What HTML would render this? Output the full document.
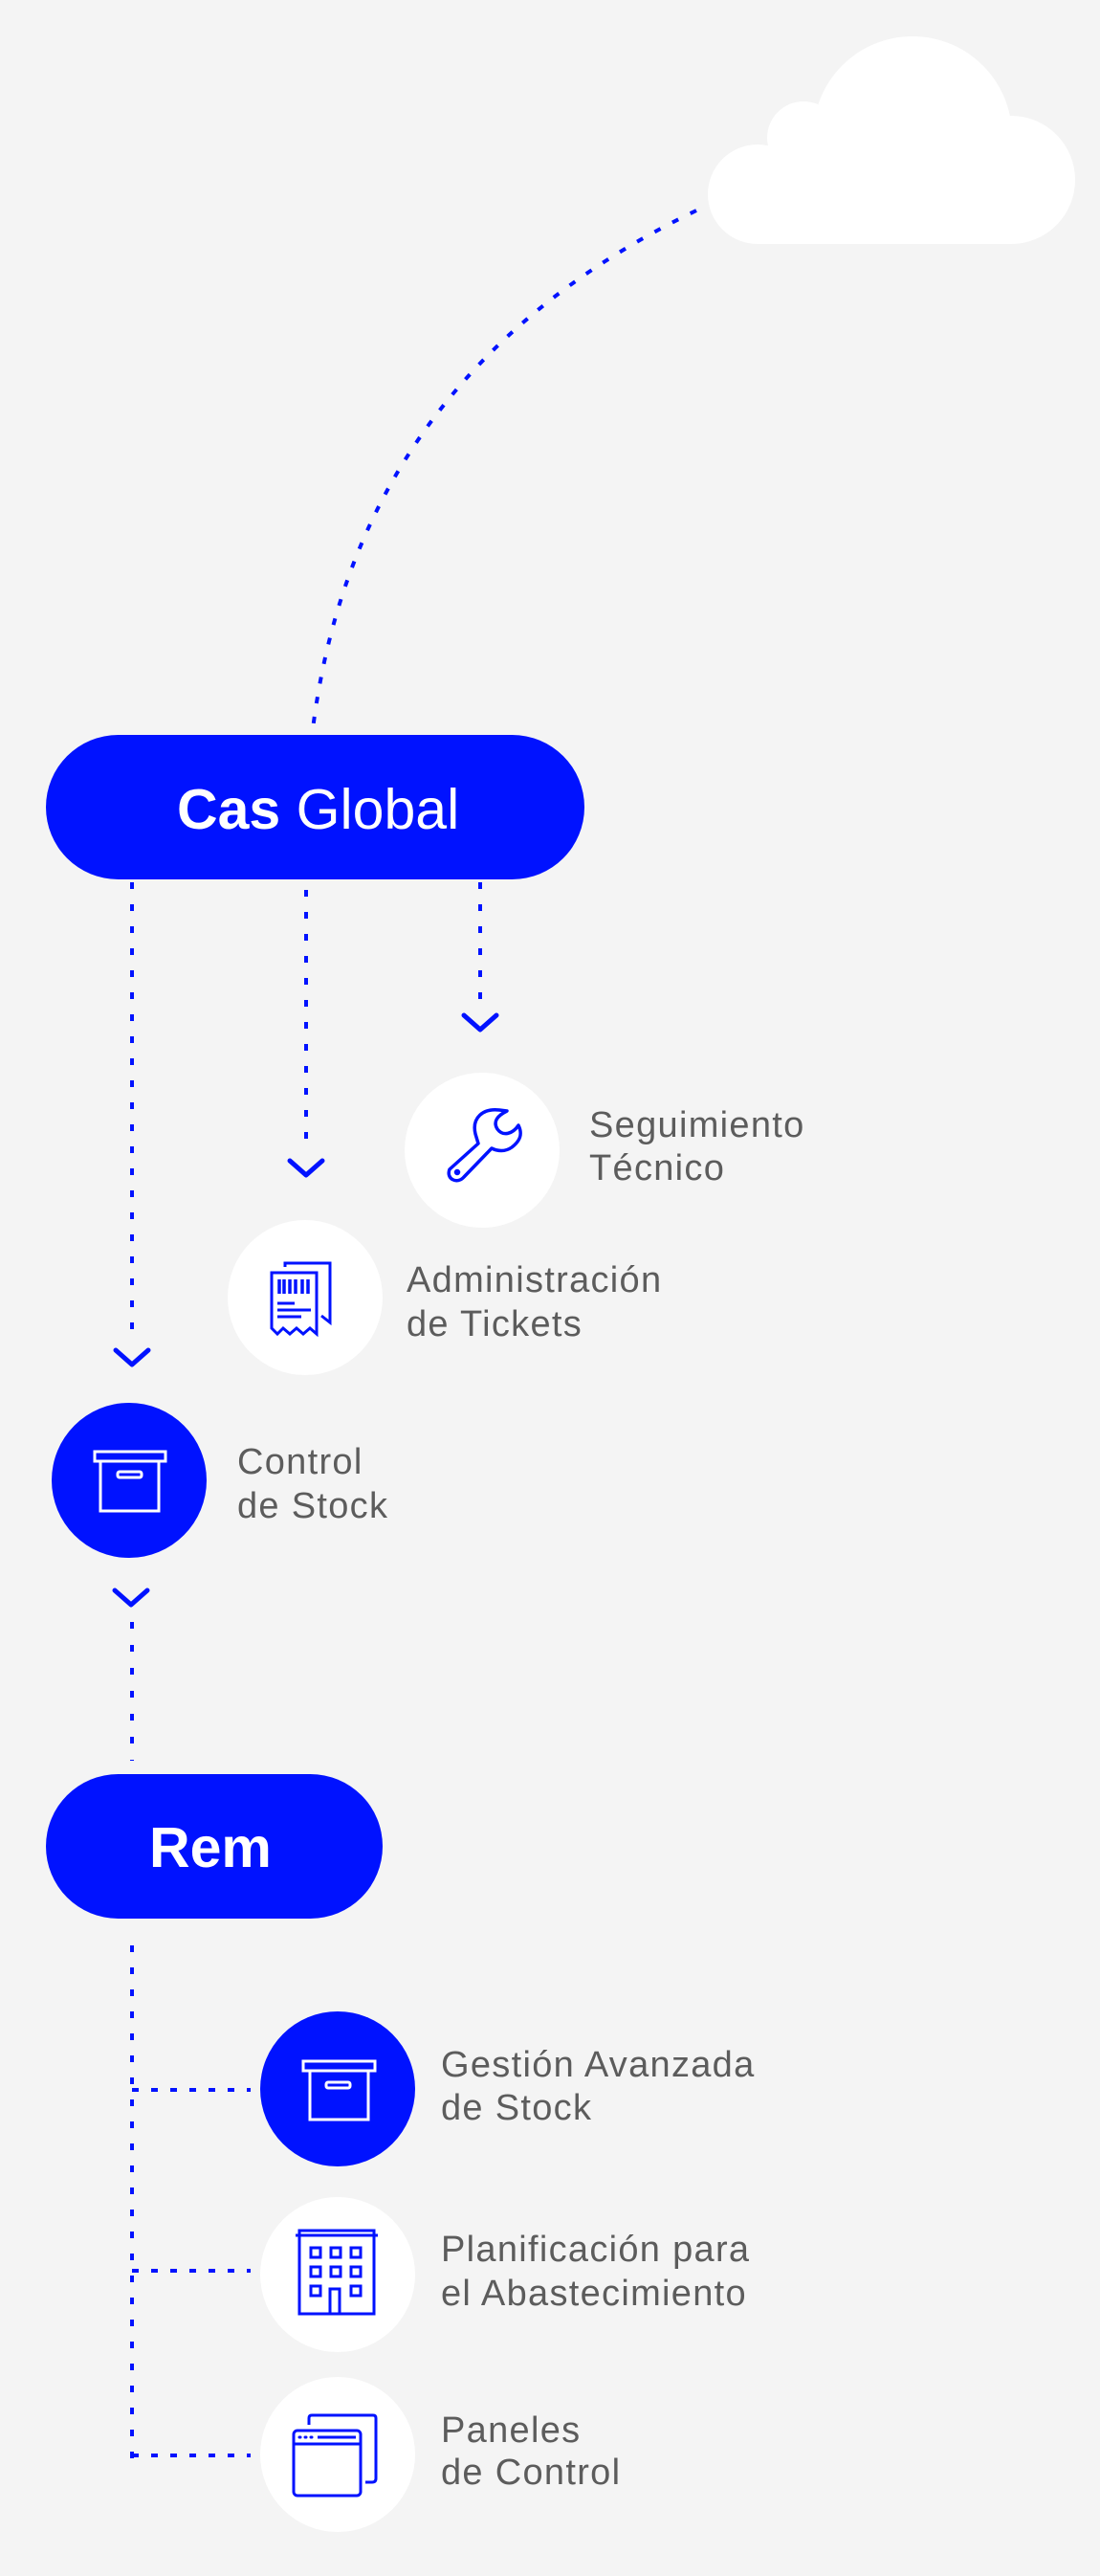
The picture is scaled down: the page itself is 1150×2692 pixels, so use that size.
<!DOCTYPE html>
<html><head><meta charset="utf-8"><style>
html,body{margin:0;padding:0;background:#f4f4f4;}
svg{display:block}
.t{font-family:"Liberation Sans",sans-serif;font-size:38px;letter-spacing:1.3px;fill:#5c5c5c;}
</style></head><body>
<svg width="1150" height="2692" viewBox="0 0 1150 2692" xmlns="http://www.w3.org/2000/svg">
<rect width="1150" height="2692" fill="#f4f4f4"/>
<!-- cloud -->
<g fill="#fff">
<circle cx="954" cy="142" r="104"/>
<circle cx="1057" cy="188" r="67"/>
<circle cx="792" cy="203" r="52"/>
<circle cx="840" cy="144" r="38"/>
<rect x="792" y="180" width="265" height="75"/>
<rect x="840" y="140" width="130" height="80"/>
</g>
<g fill="none" stroke="#0012ff" stroke-width="4">
<path d="M728 220 Q374 390 327 762" stroke-dasharray="7 14"/>
<path d="M138 922 V1398" stroke-dasharray="7 16"/>
<path d="M320 930 V1198" stroke-dasharray="7 16"/>
<path d="M502 922 V1048" stroke-dasharray="7 16"/>
<path d="M138 1695 V1840" stroke-dasharray="7 17"/>
<path d="M138 2033 V2570" stroke-dasharray="7 16"/>
<path d="M138 2184 H262 M138 2373 H262 M138 2566 H262" stroke-dasharray="7 13"/>
</g>
<g fill="none" stroke="#0012ff" stroke-width="5" stroke-linecap="round" stroke-linejoin="round">
<path d="M121 1411 L138 1426 L155 1411"/>
<path d="M303 1213 L320 1228 L337 1213"/>
<path d="M485 1061 L502 1076 L519 1061"/>
<path d="M120 1662 L137 1677 L154 1662"/>
</g>
<!-- pills -->
<rect x="48" y="768" width="563" height="151" rx="75.5" fill="#0012ff"/>
<text x="185" y="866" font-family="Liberation Sans, sans-serif" font-size="59" fill="#fff"><tspan font-weight="bold">Cas</tspan> Global</text>
<rect x="48" y="1854" width="352" height="151" rx="75.5" fill="#0012ff"/>
<text x="156" y="1951" font-family="Liberation Sans, sans-serif" font-size="59" font-weight="bold" fill="#fff">Rem</text>
<!-- circles -->
<circle cx="504" cy="1202" r="81" fill="#fff"/>
<circle cx="319" cy="1356" r="81" fill="#fff"/>
<circle cx="135" cy="1547" r="81" fill="#0012ff"/>
<circle cx="353" cy="2183" r="81" fill="#0012ff"/>
<circle cx="353" cy="2377" r="81" fill="#fff"/>
<circle cx="353" cy="2565" r="81" fill="#fff"/>
<!-- wrench -->
<g fill="none" stroke="#0012ff" stroke-width="3.5" stroke-linejoin="round">
<path d="M470 1222 L500 1195 L497 1185 C493 1168 505 1158 522 1160 L530 1161 C520 1166 515 1172 520 1180 C526 1188 536 1185 542 1176 C547 1186 543 1193 535 1199 C528 1204 520 1203 514 1200 L485 1230 C478 1238 466 1232 470 1222 Z"/>
<circle cx="478" cy="1225" r="1.5" fill="#0012ff"/>
</g>
<!-- tickets -->
<g fill="none" stroke="#0012ff" stroke-width="3">
<path d="M298 1324 V1320 H345 V1382 L336 1375"/>
<path d="M284 1330 H331 V1394 L324 1388 L317 1394 L310 1388 L303 1394 L296 1388 L290 1394 L284 1388 Z"/>
<path d="M292 1337 V1352 M297 1337 V1352 M303 1337 V1352 M309 1337 V1352 M316 1337 V1352 M322 1337 V1352" stroke-width="3.5"/>
<path d="M290 1362 H308 M290 1369 H325 M290 1376 H315"/>
</g>
<!-- boxes -->
<g fill="none" stroke="#fff" stroke-width="3">
<rect x="99" y="1517" width="74" height="10"/>
<rect x="105" y="1527" width="61" height="52"/>
<rect x="123" y="1538" width="25" height="6" rx="2"/>
<rect x="317" y="2154" width="75" height="10"/>
<rect x="324" y="2164" width="61" height="51"/>
<rect x="341" y="2176" width="25" height="6" rx="2"/>
</g>
<!-- building -->
<g fill="none" stroke="#0012ff" stroke-width="3">
<path d="M309 2336 H395 M313 2336 V2331 H391 V2336"/>
<rect x="313" y="2336" width="78" height="82"/>
<rect x="325" y="2349" width="10" height="10"/><rect x="346" y="2349" width="10" height="10"/><rect x="367" y="2349" width="10" height="10"/>
<rect x="325" y="2369" width="10" height="10"/><rect x="346" y="2369" width="10" height="10"/><rect x="367" y="2369" width="10" height="10"/>
<rect x="325" y="2389" width="10" height="10"/><rect x="367" y="2389" width="10" height="10"/>
<path d="M345 2418 V2392 H355 V2418"/>
</g>
<!-- panels -->
<g fill="none" stroke="#0012ff" stroke-width="3">
<path d="M323 2534 V2527 Q323 2524 326 2524 H390 Q393 2524 393 2527 V2590 Q393 2594 389 2594 H382"/>
<rect x="307" y="2540" width="70" height="68" rx="4"/>
<path d="M307 2554 H377 M332 2547 H372"/>
<path d="M313 2547 h1 M319 2547 h1 M325 2547 h1" stroke-width="3" stroke-linecap="round"/>
</g>
<!-- labels -->
<text class="t" x="616" y="1188">Seguimiento</text>
<text class="t" x="616" y="1233">Técnico</text>
<text class="t" x="425" y="1350">Administración</text>
<text class="t" x="425" y="1396">de Tickets</text>
<text class="t" x="248" y="1540">Control</text>
<text class="t" x="248" y="1586">de Stock</text>
<text class="t" x="461" y="2170">Gestión Avanzada</text>
<text class="t" x="461" y="2215">de Stock</text>
<text class="t" x="461" y="2363">Planificación para</text>
<text class="t" x="461" y="2409">el Abastecimiento</text>
<text class="t" x="461" y="2552">Paneles</text>
<text class="t" x="461" y="2596">de Control</text>
</svg>
</body></html>
